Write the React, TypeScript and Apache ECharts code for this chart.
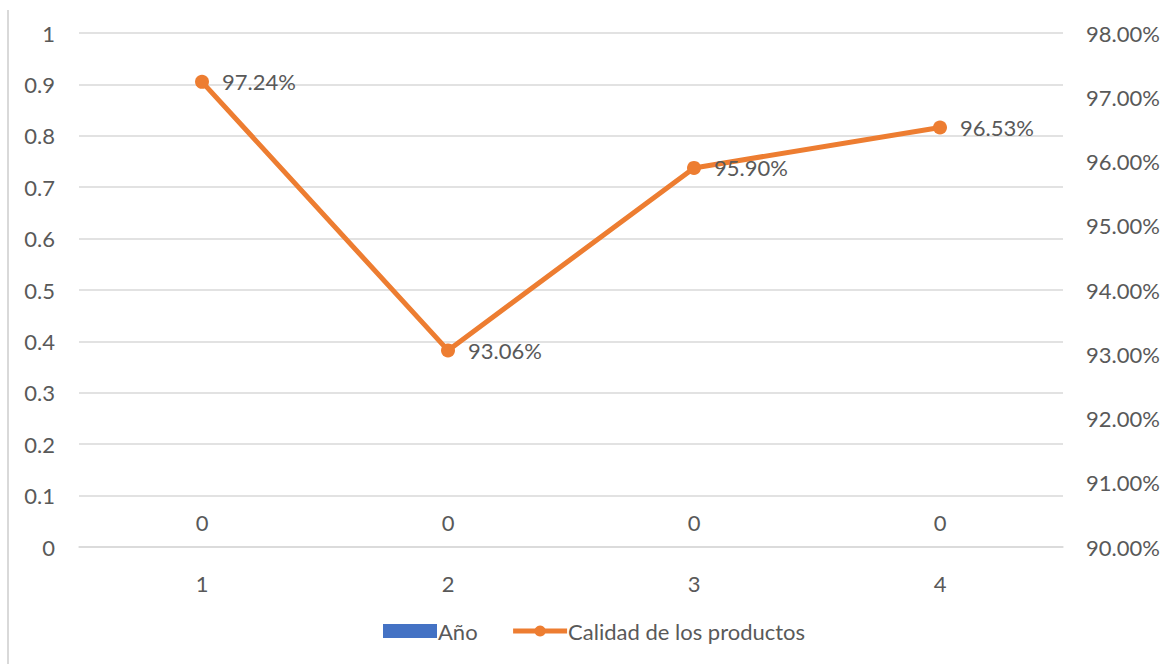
import React, { useEffect, useRef } from "react";
import * as echarts from "echarts";

const categories = ["1", "2", "3", "4"];
const yearValues = [0, 0, 0, 0];
const qualityValues = [97.24, 93.06, 95.9, 96.53];
const seriesNames = ["Año", "Calidad de los productos"];

const FONT = "Lato, 'Open Sans', sans-serif";
const FS = 22;
const TEXT = "#595959";
const GRID = "#d9d9d9";
const ORANGE = "#ED7D31";
const BLUE = "#4472C4";

export default function App() {
  const ref = useRef<HTMLDivElement>(null);

  useEffect(() => {
    document.body.style.margin = "0";
    const chart = echarts.init(ref.current!, undefined, { renderer: "svg" });
    chart.setOption({
      animation: false,
      backgroundColor: "#ffffff",
      textStyle: { fontFamily: FONT, color: TEXT },
      grid: { left: 79, right: 106, top: 33, bottom: 117 },
      graphic: [
        {
          type: "line",
          shape: { x1: 8, y1: 10, x2: 8, y2: 664 },
          style: { stroke: GRID, lineWidth: 2 },
        },
      ],
      legend: {
        top: 615,
        left: 378,
        itemWidth: 54,
        itemHeight: 14,
        itemGap: 33,
        textStyle: { fontFamily: FONT, fontSize: FS, color: TEXT, padding: [0, 0, 0, -4] },
        data: [
          { name: seriesNames[0], icon: "rect" },
          { name: seriesNames[1], lineStyle: { width: 5, color: ORANGE } },
        ],
      },
      xAxis: {
        type: "category",
        data: categories,
        axisLine: { lineStyle: { color: GRID, width: 1.5 } },
        axisTick: { show: false },
        axisLabel: { fontSize: FS, color: TEXT, fontFamily: FONT, margin: 25 },
      },
      yAxis: [
        {
          type: "value",
          min: 0,
          max: 1,
          interval: 0.1,
          axisLine: { show: false },
          axisTick: { show: false },
          splitLine: { lineStyle: { color: GRID, width: 1.5 } },
          axisLabel: {
            fontSize: FS,
            color: TEXT,
            fontFamily: FONT,
            margin: 24,
            formatter: (v: number) => String(Math.round(v * 10) / 10),
          },
        },
        {
          type: "value",
          min: 90,
          max: 98,
          interval: 1,
          position: "right",
          axisLine: { show: false },
          axisTick: { show: false },
          splitLine: { show: false },
          axisLabel: {
            fontSize: FS,
            color: TEXT,
            fontFamily: FONT,
            margin: 23,
            formatter: (v: number) => v.toFixed(2) + "%",
          },
        },
      ],
      series: [
        {
          name: seriesNames[0],
          type: "bar",
          data: yearValues,
          itemStyle: { color: BLUE },
          label: {
            show: true,
            position: "top",
            distance: 14,
            fontSize: FS,
            color: TEXT,
            fontFamily: FONT,
          },
        },
        {
          name: seriesNames[1],
          type: "line",
          yAxisIndex: 1,
          data: qualityValues,
          symbol: "circle",
          symbolSize: 14,
          lineStyle: { color: ORANGE, width: 5 },
          itemStyle: { color: ORANGE },
          label: {
            show: true,
            position: "right",
            distance: 13,
            fontSize: FS,
            color: TEXT,
            fontFamily: FONT,
            formatter: (p: any) => p.value.toFixed(2) + "%",
          },
        },
      ],
    });
    return () => chart.dispose();
  }, []);

  return <div ref={ref} style={{ width: 1169, height: 664 }} />;
}
